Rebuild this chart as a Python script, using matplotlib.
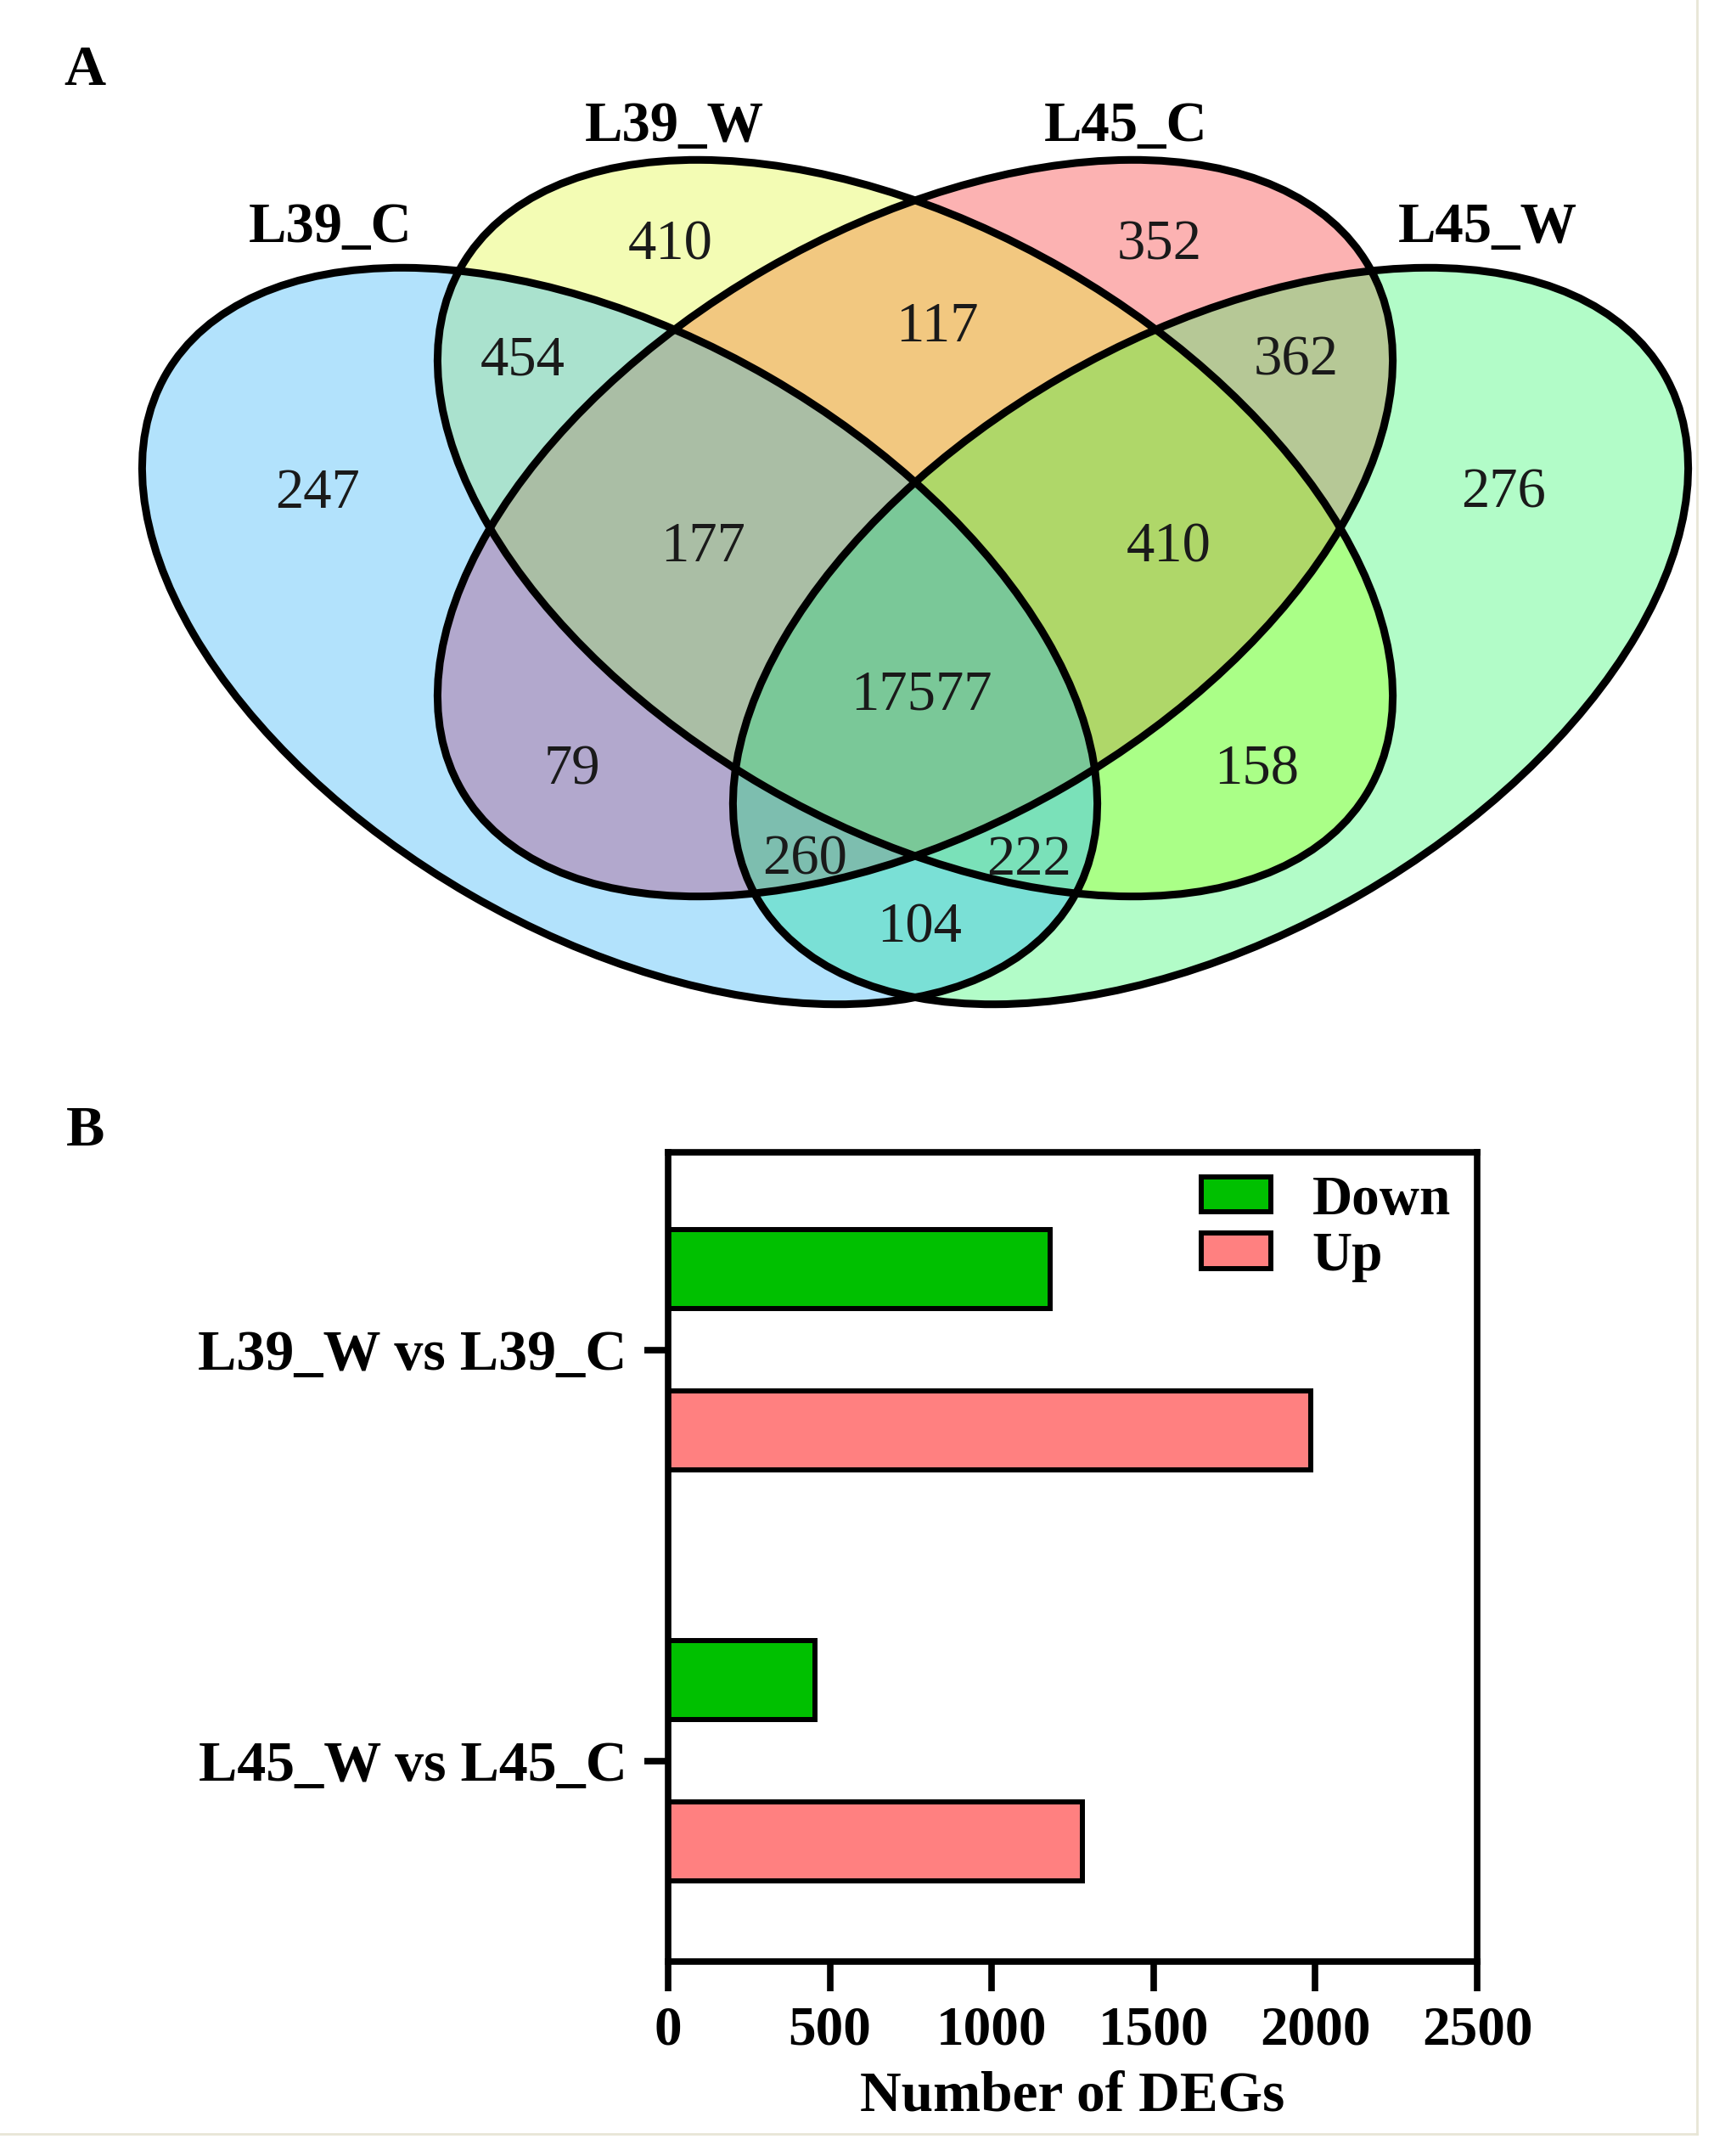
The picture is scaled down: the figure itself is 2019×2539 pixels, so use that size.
import numpy as np
import matplotlib.pyplot as plt
from matplotlib.patches import Ellipse
from matplotlib.lines import Line2D
from matplotlib.colors import to_rgba

plt.rcParams['font.family'] = ['Liberation Serif', 'DejaVu Serif']

# ---- data ----
set_names = ["L39_C", "L39_W", "L45_C", "L45_W"]
# membership code, one digit per set in set_names order
region_codes = ["1000", "0100", "0010", "0001", "1100", "0110", "0011",
                "1110", "0111", "1010", "0101", "1111", "1011", "1101", "1001"]
region_counts = [247, 410, 352, 276, 454, 117, 362,
                 177, 410, 79, 158, 17577, 260, 222, 104]

comparisons = ["L39_W vs L39_C", "L45_W vs L45_C"]
down_counts = [1180, 455]
up_counts = [1985, 1280]

# ---- layout (figure pixels, y downward) ----
W, H = 2019, 2539
ell_a, ell_b = 617, 352
ell_geom = {
    "L39_C": (730, 749, 30),
    "L39_W": (1078, 622, 30),
    "L45_C": (1078, 622, -30),
    "L45_W": (1426, 749, -30),
}
region_colors = {
    "1000": "#B2E2FC", "0100": "#F3FCB4", "0010": "#FCB2B2", "0001": "#B2FCC8",
    "1100": "#AAE2CE", "0110": "#F2C880", "0011": "#B6C896", "1110": "#AABEA5",
    "0111": "#AFD769", "1010": "#B2A8CD", "0101": "#AAFF87", "1111": "#7AC898",
    "1011": "#7DBEAF", "1101": "#7AE1B9", "1001": "#7AE0D6",
}
region_pos = {
    "1000": (374, 577), "0100": (790, 284), "0010": (1366, 284), "0001": (1771, 577),
    "1100": (616, 421), "0110": (1104, 381), "0011": (1527, 421), "1110": (828, 640),
    "0111": (1377, 640), "1010": (674, 903), "0101": (1480, 903), "1111": (1085, 814),
    "1011": (948, 1009), "1101": (1212, 1009), "1001": (1083, 1088),
}
set_label_pos = {
    "L39_C": (389, 264), "L39_W": (794, 145), "L45_C": (1326, 145), "L45_W": (1752, 264),
}


def inside(x, y, cx, cy, ang):
    t = np.deg2rad(ang)
    dx, dy = x - cx, y - cy
    u = dx * np.cos(t) + dy * np.sin(t)
    v = -dx * np.sin(t) + dy * np.cos(t)
    return (u / ell_a) ** 2 + (v / ell_b) ** 2 <= 1


fig = plt.figure(figsize=(W / 100, H / 100), dpi=100)

# ---------------- A: Venn ----------------
ax = fig.add_axes([0, 0, 1, 1])
ax.set_xlim(0, W)
ax.set_ylim(H, 0)
ax.axis('off')

x0, x1, y0, y1 = 100, 2010, 140, 1260
xs = np.arange(x0, x1) + 0.5
ys = np.arange(y0, y1) + 0.5
X, Y = np.meshgrid(xs, ys)
member = [inside(X, Y, *ell_geom[name]) for name in set_names]
img = np.zeros((len(ys), len(xs), 4))
for code in region_codes:
    mask = np.ones_like(X, dtype=bool)
    for bit, m in zip(code, member):
        mask &= m if bit == "1" else ~m
    img[mask] = to_rgba(region_colors[code])
ax.imshow(img, extent=(x0, x1, y1, y0), origin='upper', aspect='auto',
          interpolation='nearest', zorder=1)

for name in set_names:
    cx, cy, ang = ell_geom[name]
    ax.add_patch(Ellipse((cx, cy), 2 * ell_a, 2 * ell_b, angle=ang, fill=False,
                         ec='black', lw=6.5, zorder=3))

for code, n in zip(region_codes, region_counts):
    x, y = region_pos[code]
    ax.text(x, y + 21, str(n), ha='center', va='baseline', fontsize=48,
            color='#1a1a1a', zorder=4)

for name in set_names:
    x, y = set_label_pos[name]
    ax.text(x, y + 21, name, ha='center', va='baseline', fontsize=48,
            fontweight='bold', zorder=4)

ax.text(100, 78 + 22, "A", ha='center', va='baseline', fontsize=49, fontweight='bold')
ax.text(101, 1327 + 22, "B", ha='center', va='baseline', fontsize=49, fontweight='bold')

# faint frame of the original panel
fig.add_artist(Line2D([1999 / W, 1999 / W], [1, 1 - 2513 / H], transform=fig.transFigure,
                      color='#E8E6D6', lw=2))
fig.add_artist(Line2D([0, 1999 / W], [1 - 2513 / H, 1 - 2513 / H], transform=fig.transFigure,
                      color='#E8E6D6', lw=2))

# ---------------- B: bars ----------------
L, R, T, B = 787, 1740, 1357, 2310
bx = fig.add_axes([L / W, (H - B) / H, (R - L) / W, (B - T) / H])
ypos = np.arange(len(comparisons))
bx.barh(ypos - 0.196, down_counts, height=0.192, color='#00C000',
        edgecolor='black', lw=4.3, label='Down')
bx.barh(ypos + 0.196, up_counts, height=0.192, color='#FF8080',
        edgecolor='black', lw=4.3, label='Up')
bx.set_xlim(0, 2500)
bx.set_ylim(1.488, -0.481)
bx.set_xticks(np.arange(0, 2501, 500))
bx.set_yticks(ypos, comparisons)
for s in bx.spines.values():
    s.set_linewidth(5.5)
bx.tick_params(axis='x', length=25, width=5.5, pad=12, labelsize=47)
bx.tick_params(axis='y', length=20, width=5.5, pad=15, labelsize=49)
for lab in bx.get_xticklabels() + bx.get_yticklabels():
    lab.set_fontweight('bold')
bx.set_xlabel('Number of DEGs', fontsize=48.5, fontweight='bold', labelpad=12)

leg = bx.legend(loc='upper left', bbox_to_anchor=(0.659, 0.972), frameon=False,
                prop={'weight': 'bold', 'size': 47},
                handlelength=1.25, handleheight=0.6, handletextpad=0.75,
                labelspacing=0.1, borderpad=0, borderaxespad=0)
for h in leg.legend_handles:
    h.set_linewidth(4.3)

fig.savefig('out.png', dpi=100, facecolor='white')
